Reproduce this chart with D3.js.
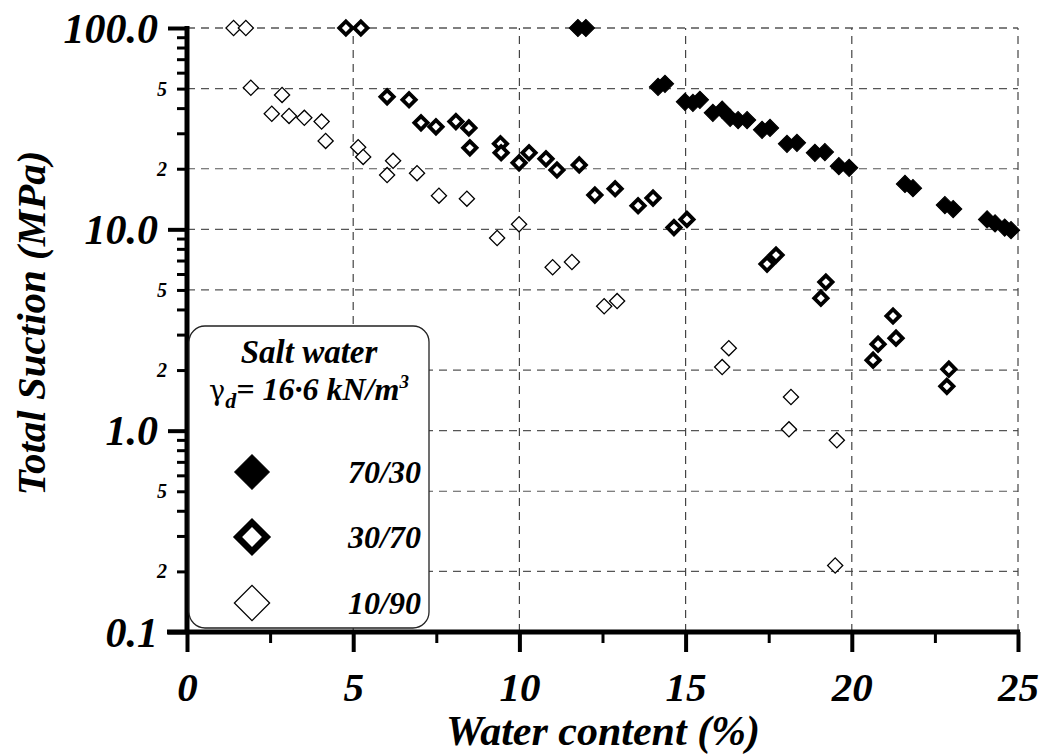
<!DOCTYPE html>
<html><head><meta charset="utf-8">
<script src="https://cdn.jsdelivr.net/npm/d3@7"></script>
<style>
body{margin:0;background:#fff;}
text{font-family:"Liberation Serif","Times New Roman",serif;font-weight:bold;font-style:italic;fill:#000;}
</style></head>
<body><svg id="c" width="1045" height="756"></svg>
<script>
// ---- data ----
const s7030_x = [11.76,12.0,14.17,14.38,14.98,15.22,15.43,15.82,16.1,16.34,16.58,16.85,17.3,17.54,18.05,18.35,18.89,19.19,19.61,19.92,21.6,21.84,22.8,23.05,24.07,24.31,24.6,24.79];
const s7030_y = [100,100,51,52.8,43,42.5,44,37.9,39.3,35.8,34.9,34.9,31.2,31.9,26.6,26.9,24.0,24.2,20.6,20.2,16.8,16.0,13.2,12.6,11.2,10.7,10.2,9.9];
const s3070_x = [4.78,5.23,6.02,6.68,7.04,7.49,8.09,8.48,8.51,9.43,9.45,9.99,10.29,10.8,11.13,11.8,12.27,12.88,13.57,14.02,14.65,15.04,17.45,17.72,19.22,19.07,21.24,21.33,20.79,20.64,22.92,22.86];
const s3070_y = [100,100,45.5,44.0,33.8,32.3,34.3,31.9,25.4,26.6,24.0,21.4,24.0,22.4,19.7,20.9,14.8,15.9,13.1,14.3,10.2,11.2,6.72,7.45,5.47,4.55,3.71,2.88,2.69,2.24,2.02,1.66];
const s1090_x = [1.4,1.77,1.92,2.86,2.55,3.07,3.53,4.05,4.17,5.15,5.3,6.2,6.02,6.92,7.58,8.42,9.33,9.99,11.0,11.58,12.55,12.94,16.1,16.3,18.17,18.11,19.55,19.5];
const s1090_y = [100,100,50.5,46.5,37.5,36.6,35.8,34.3,27.5,25.6,22.9,21.9,18.6,19.0,14.7,14.2,9.06,10.6,6.48,6.88,4.15,4.40,2.07,2.57,1.47,1.015,0.895,0.214];
const seriesNames = ["70/30","30/70","10/90"];
const xTickValues = [0,5,10,15,20,25];
const xTickLabels = ["0","5","10","15","20","25"];
const xMinorTicks = [2.5,7.5,12.5,17.5,22.5];
const yMajorValues = [0.1,1,10,100];
const yMajorLabels = ["0.1","1.0","10.0","100.0"];
const yMinorLabelValues = [0.2,0.5,2,5,20,50];
const yMinorLabels = ["2","5","2","5","2","5"];
const yGridValues = [0.2,0.5,1,2,5,10,20,50,100];
const xGridValues = [5,10,15,20,25];
const xTitle = "Water content (%)";
const yTitle = "Total Suction (MPa)";
const legendTitle = "Salt water";

// ---- chart ----
const svg = d3.select("#c");
const x = d3.scaleLinear().domain([0,25]).range([187,1018]);
const y = d3.scaleLog().domain([0.1,100]).range([632,28]);
const X0 = x(0), Y0 = y(0.1);

// grid
const grid = svg.append("g").attr("stroke","#444").attr("stroke-width",1.2).attr("stroke-dasharray","8,6").attr("fill","none");
grid.selectAll("line.h").data(yGridValues).join("line")
  .attr("x1",X0).attr("x2",x(25)).attr("y1",d=>y(d)).attr("y2",d=>y(d))
  .attr("stroke", d=> d===100 ? "#000" : "#555");
grid.selectAll("line.v").data(xGridValues).join("line")
  .attr("y1",Y0).attr("y2",y(100)).attr("x1",d=>x(d)).attr("x2",d=>x(d));

// y axis minor ticks
const allMinor = [];
[0.1,1,10].forEach(b=>{for(let k=2;k<=9;k++) allMinor.push(b*k);});
const yMinorAxis = d3.axisLeft(y).tickValues(allMinor).tickSize(10).tickFormat("");
const gym = svg.append("g").attr("transform",`translate(${X0},0)`).call(yMinorAxis);
gym.select(".domain").remove();
gym.selectAll(".tick line").attr("stroke","#000").attr("stroke-width",3);

const yMajorAxis = d3.axisLeft(y).tickValues(yMajorValues).tickSize(19)
  .tickFormat((d,i)=>yMajorLabels[i]).tickPadding(10);
const gy = svg.append("g").attr("transform",`translate(${X0},0)`).call(yMajorAxis);
gy.select(".domain").remove();
gy.selectAll(".tick line").attr("stroke","#000").attr("stroke-width",4);
gy.selectAll(".tick text").attr("font-size",42).attr("font-family",null).attr("fill","#000").attr("dy","0.34em");

// minor labels
svg.append("g").selectAll("text").data(yMinorLabelValues).join("text")
  .attr("x",167).attr("y",d=>y(d)).attr("dy","0.35em").attr("text-anchor","end")
  .attr("font-size",20).text((d,i)=>yMinorLabels[i]);

// x axis
const xMinorAxis = d3.axisBottom(x).tickValues(xMinorTicks).tickSize(11).tickFormat("");
const gxm = svg.append("g").attr("transform",`translate(0,${Y0})`).call(xMinorAxis);
gxm.select(".domain").remove();
gxm.selectAll(".tick line").attr("stroke","#000").attr("stroke-width",3);
const xAxis = d3.axisBottom(x).tickValues(xTickValues).tickSize(20).tickFormat((d,i)=>xTickLabels[i]).tickPadding(20);
const gx = svg.append("g").attr("transform",`translate(0,${Y0})`).call(xAxis);
gx.select(".domain").remove();
gx.selectAll(".tick line").attr("stroke","#000").attr("stroke-width",4);
gx.selectAll(".tick text").attr("font-size",41).attr("font-family",null).attr("fill","#000");

// axis lines
svg.append("line").attr("x1",X0).attr("x2",X0).attr("y1",y(100)-2).attr("y2",Y0+2).attr("stroke","#000").attr("stroke-width",5);
svg.append("line").attr("x1",167).attr("x2",x(25)+2).attr("y1",Y0).attr("y2",Y0).attr("stroke","#000").attr("stroke-width",5);

// titles
svg.append("text").attr("x",603).attr("y",745).attr("text-anchor","middle").attr("font-size",42).text(xTitle);
svg.append("text").attr("transform","translate(45,323) rotate(-90)").attr("text-anchor","middle").attr("font-size",41).text(yTitle);

// markers
const diamond = (size)=>d3.symbol().type(d3.symbolSquare).size(size)();
function drawSeries(xs, ys, size, fill, stroke, sw){
  svg.append("g").selectAll("path").data(xs.map((v,i)=>[v,ys[i]])).join("path")
    .attr("d",diamond(size))
    .attr("transform",d=>`translate(${x(d[0])},${y(d[1])}) rotate(45)`)
    .attr("fill",fill).attr("stroke",stroke).attr("stroke-width",sw);
}
drawSeries(s1090_x,s1090_y,115,"#fff","#000",1.3);
drawSeries(s3070_x,s3070_y,88,"#fff","#000",3.8);
drawSeries(s7030_x,s7030_y,150,"#000","#000",1);

// legend
const lg = svg.append("g");
lg.append("rect").attr("x",189).attr("y",326).attr("width",240).attr("height",302).attr("rx",16)
  .attr("fill","#fff").attr("stroke","#222").attr("stroke-width",1.3);
lg.append("text").attr("x",309).attr("y",363).attr("text-anchor","middle").attr("font-size",33).text(legendTitle);
const t2 = lg.append("text").attr("x",309).attr("y",400).attr("text-anchor","middle").attr("font-size",32);
t2.append("tspan").attr("font-style","normal").attr("font-weight","normal").attr("font-family","DejaVu Serif").attr("font-size",27).text("γ");
t2.append("tspan").attr("font-size",22).attr("dy",8).text("d");
t2.append("tspan").attr("dy",-8).text("= 16·6 kN/m");
t2.append("tspan").attr("font-size",19).attr("dy",-12).text("3");
const legY = [472,537,603];
const legStyles = [
  {fill:"#000",stroke:"#000",sw:1,size:600},
  {fill:"#fff",stroke:"#000",sw:6.5,size:420},
  {fill:"#fff",stroke:"#000",sw:1.3,size:620}
];
seriesNames.forEach((n,i)=>{
  const st = legStyles[i];
  lg.append("path").attr("d",diamond(st.size)).attr("transform",`translate(252,${legY[i]}) rotate(45)`)
    .attr("fill",st.fill).attr("stroke",st.stroke).attr("stroke-width",st.sw);
  lg.append("text").attr("x",421).attr("y",legY[i]+11).attr("text-anchor","end").attr("font-size",32).text(n);
});
</script></body></html>
